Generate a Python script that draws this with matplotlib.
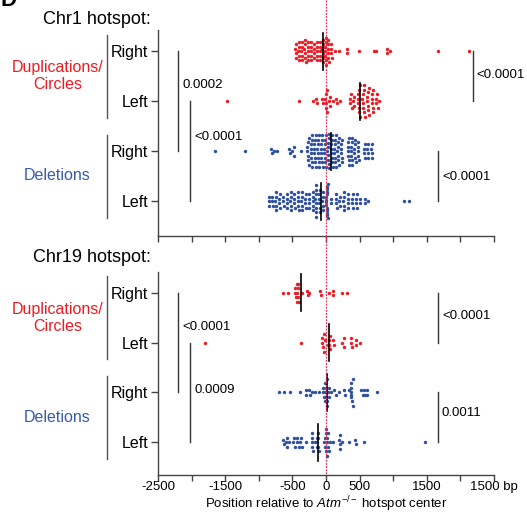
import numpy as np
import matplotlib
matplotlib.use('Agg')
import matplotlib.pyplot as plt
from matplotlib.lines import Line2D
from matplotlib.transforms import blended_transform_factory

plt.rcParams['font.family'] = ['Liberation Sans', 'DejaVu Sans']
plt.rcParams['mathtext.fontset'] = 'custom'
plt.rcParams['mathtext.rm'] = 'Liberation Sans'
plt.rcParams['mathtext.it'] = 'Liberation Sans:italic'

# ============================== data (bp) ==============================
row_labels = ['Right', 'Left', 'Right', 'Left']
group_labels = ['Duplications/\nCircles', 'Deletions']
panel_titles = ['Chr1 hotspot:', 'Chr19 hotspot:']

chr1_dup_right = [-455, -452, -448, -445,
                  -410, -407, -404, -401, -398,
                  -365, -362, -359, -356, -353,
                  -320, -317, -314, -311, -308, -305,
                  -275, -272, -269, -266, -263,
                  -230, -227, -224, -221, -218,
                  -185, -182, -179, -176,
                  -140, -137, -134, -131, -128,
                  -95, -92, -89, -86, -83,
                  -55, -52, -49, -46, -43, -40,
                  -15, -12, -9, -6, -3, 0, 3,
                  25, 28, 31, 34, 37, 40,
                  70, 74, 78, 82,
                  140, 190, 310, 315, 490, 710, 750, 905, 910, 950, 1670, 2130]
chr1_dup_left = [-1470, -400,
                 -200, -150, -140, -60, -50, -10, -5, 0, 5, 10, 20, 40, 60, 65, 100, 150, 160, 215,
                 350, 355, 365, 380, 400, 410, 420,
                 470, 475, 480, 485, 490, 495, 500, 505,
                 540, 545, 550, 555, 560, 565, 570, 575,
                 610, 615, 620, 625, 630, 635, 640,
                 680, 685, 690, 695, 700, 705,
                 740, 750, 760, 775, 790]
chr1_del_right = [-1650, -1200, -820, -800, -780, -730, -550, -530, -500, -475, -470, -375,
                  -280, -276, -272, -268, -264, -260, -256,
                  -230, -226, -222, -218, -214, -210, -206, -202,
                  -180, -176, -172, -168, -164, -160, -156, -152,
                  -130, -126, -122, -118, -114, -110, -106, -102,
                  -80, -76, -72, -68, -64, -60, -56, -52,
                  -30, -26, -22, -18, -14, -10, -6, -2,
                  20, 24, 28, 32, 36, 40, 44, 48, 52,
                  70, 74, 78, 82, 86, 90, 94, 98,
                  120, 124, 128, 132, 136, 140, 144, 148,
                  170, 174, 178, 182, 186, 190, 194,
                  220, 224, 228, 232, 236, 240,
                  320, 324, 328, 332, 336, 340, 344,
                  370, 374, 378, 382, 386, 390, 394,
                  420, 424, 428, 432, 436, 440,
                  470, 474, 478, 482, 486,
                  565, 570, 575, 580,
                  615, 620, 625, 630,
                  675, 680, 685, 690]
chr1_del_left = [-852, -848, -845,
                 -805, -800, -795,
                 -752, -749, -746, -743, -740,
                 -695, -692, -689, -686,
                 -640, -636, -632,
                 -585, -582, -579, -576,
                 -530, -527, -524, -521, -518,
                 -475, -472, -469, -466,
                 -420, -417, -414, -411, -408,
                 -365, -362, -359, -356, -353,
                 -310, -307, -304, -301,
                 -255, -252, -249, -246,
                 -200, -197, -194, -191, -188,
                 -158, -156, -154, -152, -150, -148, -146, -144,
                 -105, -102, -99, -96, -93, -90,
                 -55, -52, -49, -46, -43,
                 0, 2, 4, 6, 8, 10, 12, 14, 16, 18, 20, 22, 24, 26,
                 75, 80,
                 150, 153, 156, 159,
                 200, 204, 208,
                 260, 263, 266, 269, 272,
                 320, 323, 326, 329,
                 390, 393, 396, 399,
                 450, 453, 456, 459,
                 500, 505, 575, 580, 625, 1160, 1230]

chr19_dup_right = [-640, -565, -465, -460, -440, -435, -430, -425, -420, -415, -410, -400,
                   -360, -290, -275, -250, -85, -75, 40, 100, 105, 240, 310]
chr19_dup_left = [-1806, -374, -60, -55, -50, -35, -30, -10, 25, 45, 50, 55, 65, 100, 115,
                  235, 265, 270, 370, 375, 380, 440, 450, 500]
chr19_del_right = [-700, -625, -535, -385, -300, -295, -250, -235, -210, -160, -110,
                   -50, -40, -30, -20, -15, -10, -5, 0, 5, 10, 15, 20, 30, 40, 50, 75,
                   125, 145, 200, 265, 285, 335, 370, 372, 374, 376, 378, 380, 400, 405,
                   515, 550, 570, 575, 610, 615, 765]
chr19_del_left = [-640, -620, -600, -580, -575, -550, -490, -470, -460, -430, -425, -400, -390,
                  -370, -360, -300, -215, -212, -208, -205, -200, -170, -140, -135, -130, -125,
                  -120, -115, -100, -25, -15, -10, -5, 0, 5, 10, 15, 20, 25, 30, 40, 60, 100,
                  200, 205, 210, 215, 240, 340, 425, 450, 560, 1470]

chr1_rows = [chr1_dup_right, chr1_dup_left, chr1_del_right, chr1_del_left]
chr19_rows = [chr19_dup_right, chr19_dup_left, chr19_del_right, chr19_del_left]
chr1_medians = [-40, 500, 70, -70]
chr19_medians = [-370, 45, 10, -115]

# p-values: (x of bar, row from, row to, label, label y)
chr1_pvals = [(-2200, 0, 2, '0.0002', 0.68), (-2020, 1, 3, '<0.0001', 1.71),
              (2185, 0, 1, '<0.0001', 0.48), (1666, 2, 3, '<0.0001', 2.51)]
chr19_pvals = [(-2200, 0, 2, '<0.0001', 0.69), (-2020, 1, 3, '0.0009', 1.96),
               (1666, 0, 1, '<0.0001', 0.47), (1666, 2, 3, '0.0011', 2.42)]

xticks = [-2500, -2000, -1500, -1000, -500, 0, 500, 1000, 1500, 2000, 2500]
xticklabels = ['-2500', '', '-1500', '', '-500', '0', '500', '', '1500', '', '1500 bp']

RED = '#ec1c24'
BLUE = '#2f4f9f'
row_colors = [RED, RED, BLUE, BLUE]


def swarm(vals, w=35, dy=0.09, hmax=0.68):
    # columns of dots, smallest value in the middle -> "<" chevrons
    v = np.sort(np.asarray(vals, float))
    xs, ys = [], []
    i = 0
    while i < len(v):
        j = i
        while j < len(v) and v[j] - v[i] <= w:
            j += 1
        col = v[i:j]
        n = len(col)
        step = min(dy, hmax / (n - 1)) if n > 1 else dy
        pos = (np.arange(n) - (n - 1) / 2) * step
        pos = pos[np.argsort(np.abs(pos), kind='stable')]
        xs.extend(col)
        ys.extend(pos)
        i = j
    return np.array(xs), np.array(ys)


def drawPanel(ax, rows, medians, pvals, ylim, show_labels):
    for i, vals in enumerate(rows):
        xs, ys = swarm(vals)
        ax.scatter(xs, i + ys, s=6, color=row_colors[i], linewidths=0, zorder=2)
        ax.plot([medians[i], medians[i]], [i - 0.37, i + 0.37], color='k', lw=1.2, zorder=3)

    for (x, r0, r1, txt, ty) in pvals:
        ax.plot([x, x], [r0, r1], color='#333333', lw=1, clip_on=False)
        ax.text(x + 60, ty, txt, fontsize=9.5, va='center', ha='left')

    ax.set_xlim(-2500, 2500)
    ax.set_ylim(*ylim)
    ax.set_yticks(range(4))
    ax.set_yticklabels(row_labels, fontsize=11.5)
    ax.set_xticks(xticks)
    if show_labels:
        ax.set_xticklabels(xticklabels, fontsize=9.5)
    else:
        ax.set_xticklabels([])
    for s in ['top', 'right']:
        ax.spines[s].set_visible(False)
    for s in ['left', 'bottom']:
        ax.spines[s].set_color('#444444')
        ax.spines[s].set_linewidth(1)
    ax.tick_params(axis='y', length=5, width=1, color='#444444', pad=2)
    ax.tick_params(axis='x', length=4, width=1, color='#444444', pad=0.5)

    # group brackets and labels
    tr = blended_transform_factory(ax.transAxes, ax.transData)
    for g in range(2):
        y0 = 2 * g - 0.33
        y1 = 2 * g + 1.33
        ax.plot([-0.152, -0.152], [y0, y1], color='#555555', lw=1, transform=tr, clip_on=False)
        ax.text(-0.299, 2 * g + 0.5, group_labels[g], transform=tr, ha='center', va='center',
                fontsize=11.5, color=[RED, '#3a5aa8'][g], linespacing=1.15)


fig = plt.figure(figsize=(5.27, 5.15), dpi=100)
left = 158 / 527
width = 336 / 527
ax1 = fig.add_axes([left, 1 - 236 / 515, width, 206 / 515])
ax2 = fig.add_axes([left, 1 - 475 / 515, width, 203 / 515])

drawPanel(ax1, chr1_rows, chr1_medians, chr1_pvals, (3.7, -0.42), False)
drawPanel(ax2, chr19_rows, chr19_medians, chr19_pvals, (3.66, -0.42), True)

xc = left + width / 2
fig.text(xc, 1 - 508 / 515, r'Position relative to $\mathit{Atm}^{\mathregular{-/-}}$ hotspot center',
         ha='center', va='baseline', fontsize=9.5)
fig.text(151 / 527, 1 - 20 / 515, panel_titles[0], ha='right', va='center', fontsize=13)
fig.text(151 / 527, 1 - 257 / 515, panel_titles[1], ha='right', va='center', fontsize=13)
fig.text(0.0, 1 - 6 / 515, 'D', fontsize=16, fontweight='bold', va='baseline')

# dotted red line at the hotspot center through both panels
fig.add_artist(Line2D([xc, xc], [1.0, 1 - 475 / 515], transform=fig.transFigure,
                      color='#e0304f', lw=0.9, linestyle=(0, (1.5, 1)), zorder=5))

fig.savefig('out.png', dpi=100)
